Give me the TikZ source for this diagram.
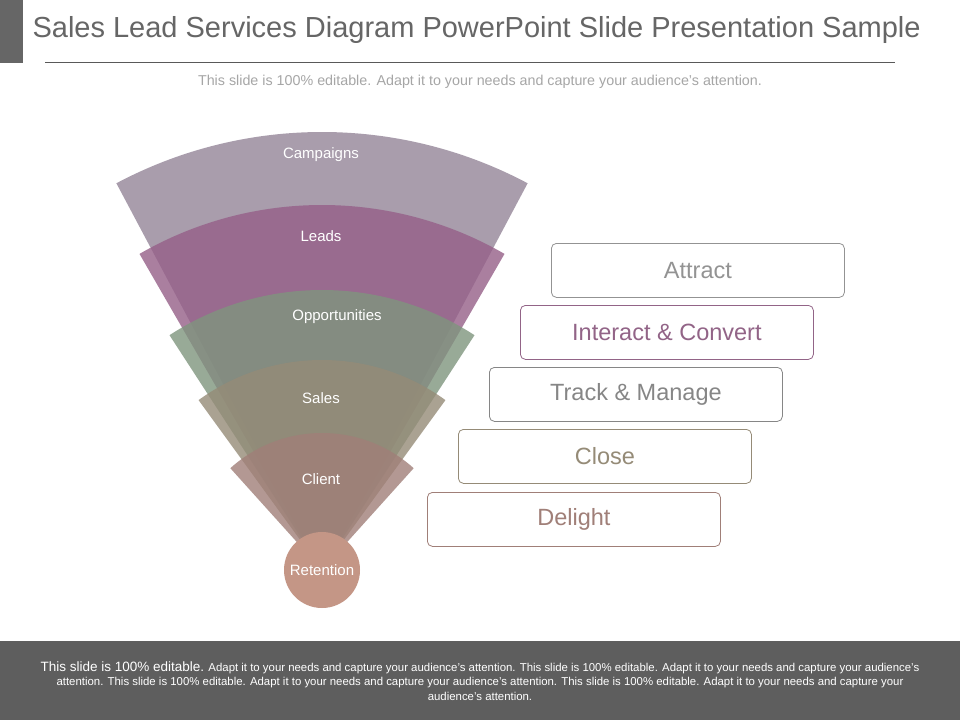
\documentclass[tikz,border=0pt]{standalone}
\usepackage{fontspec}
\setmainfont{Liberation Sans}
\definecolor{cC}{HTML}{9A8C9E}
\definecolor{cL}{HTML}{955F88}
\definecolor{cO}{HTML}{7F957E}
\definecolor{cS}{HTML}{958B77}
\definecolor{cK}{HTML}{A07F78}
\definecolor{cR}{HTML}{C49686}
\begin{document}
\begin{tikzpicture}[x=1pt,y=-1pt,
  lbl/.style={text=white,font=\fontsize{15}{17}\selectfont},
  stage/.style={draw=#1,fill=white,rounded corners=5pt,line width=0.8pt,minimum width=293pt,minimum height=54pt,anchor=north west,text=#1,font=\fontsize{23.5}{26}\selectfont}]
\useasboundingbox (0,0) rectangle (960,720);
\fill[white] (0,0) rectangle (960,720);
\fill[gray!80!black] (0,0) rectangle (23,63);
\node[anchor=west,text=gray!80!black,font=\fontsize{29}{32}\selectfont] (title) at (29,30) {Sales Lead Services Diagram PowerPoint Slide Presentation Sample};
\draw[gray!70!black,line width=0.6pt] (45,62) -- (895,62);
\node[text=gray!70,font=\fontsize{14.3}{16}\selectfont] (sub) at (480,82) {This slide is 100\% editable. Adapt it to your needs and capture your audience's attention.};
\coordinate (A) at (322,570);
\fill[fill=cC,fill opacity=0.85] (A) -- ++(-118:438) arc[start angle=-118,end angle=-62,radius=438] -- cycle;
\fill[fill=cL,fill opacity=0.8] (A) -- ++(-120:365) arc[start angle=-120,end angle=-60,radius=365] -- cycle;
\fill[fill=cO,fill opacity=0.8] (A) -- ++(-123:280) arc[start angle=-123,end angle=-57,radius=280] -- cycle;
\fill[fill=cS,fill opacity=0.8] (A) -- ++(-126:210) arc[start angle=-126,end angle=-54,radius=210] -- cycle;
\fill[fill=cK,fill opacity=0.8] (A) -- ++(-132:137) arc[start angle=-132,end angle=-48,radius=137] -- cycle;
\node[circle,fill=cR,minimum size=76pt,lbl] (ret) at (322,570) {Retention};
\node[lbl] (c) at (321,155) {Campaigns};
\node[lbl] (l) at (321,236) {Leads};
\node[lbl] (o) at (337,317) {Opportunities};
\node[lbl] (s) at (321,398) {Sales};
\node[lbl] (cl) at (321,479) {Client};
\node[stage=gray!85] (b1) at (551,243) {Attract};
\node[stage=cL!85!gray] (b2) at (520,305) {Interact \& Convert};
\node[stage=gray!95] (b3) at (489,367) {Track \& Manage};
\node[stage=cS] (b4) at (458,429) {Close};
\node[stage=cK] (b5) at (427,492) {Delight};
\fill[gray!60!black!90] (0,641) rectangle (960,720);
\node[text=white,align=center,font=\fontsize{11.4}{14.5}\selectfont] (foot) at (480,681) {{\fontsize{13.5}{14}\selectfont This slide is 100\% editable.} Adapt it to your needs and capture your audience's attention. This slide is 100\% editable. Adapt it to your needs and capture your audience's\\ attention. This slide is 100\% editable. Adapt it to your needs and capture your audience's attention. This slide is 100\% editable. Adapt it to your needs and capture your\\ audience's attention.};
\end{tikzpicture}
\end{document}
